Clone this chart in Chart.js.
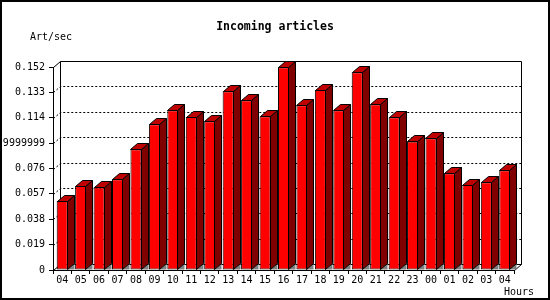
<!DOCTYPE html>
<html>
<head>
<meta charset="utf-8">
<script src="https://cdn.jsdelivr.net/npm/chart.js@4"></script>
<style>
  body { margin: 0; background: #fff; }
  canvas { display: block; }
</style>
</head>
<body>
<canvas id="chart" width="550" height="300"></canvas>
<script>
const hours = ['04','05','06','07','08','09','10','11','12','13','14','15','16',
               '17','18','19','20','21','22','23','00','01','02','03','04'];
const artPerSec = [0.0517, 0.0629, 0.0619, 0.0679, 0.0904, 0.1091, 0.1196, 0.1146, 0.1113,
                   0.1338, 0.1271, 0.1151, 0.1518, 0.1233, 0.1348, 0.1196, 0.1480, 0.1241,
                   0.1143, 0.0963, 0.0986, 0.0724, 0.0636, 0.0657, 0.0746];
const yTickValues = [0, 0.019, 0.038, 0.057, 0.076, 0.095, 0.114, 0.133, 0.152];
const yTickLabels = ['0', '0.019', '0.038', '0.057', '0.076', '0.09499999999999999', '0.114', '0.133', '0.152'];

const DX = 7, DY = 6; // depth of the fake 3d

Chart.defaults.font.family = 'DejaVu Sans Mono';
Chart.defaults.font.size = 10;
Chart.defaults.color = '#000';

const poly = (ctx, pts, fill) => {
    ctx.beginPath();
    pts.forEach(([px, py], i) => i ? ctx.lineTo(px, py) : ctx.moveTo(px, py));
    ctx.closePath();
    ctx.fillStyle = fill;
    ctx.fill();
    ctx.stroke();
};

const box3d = {
    id: 'box3d',
    beforeDatasetsDraw(chart) {
        const {ctx, chartArea: a, scales: {y}} = chart;
        ctx.save();
        ctx.strokeStyle = '#000';
        ctx.lineWidth = 1;
        // dotted lines on the back wall
        ctx.setLineDash([2, 2]);
        yTickValues.slice(1, -1).forEach(v => {
            const py = Math.round(y.getPixelForValue(v)) + 0.5;
            ctx.beginPath();
            ctx.moveTo(a.left + 0.5, py);
            ctx.lineTo(a.left + DX + 0.5, py - DY);
            ctx.lineTo(a.right + DX + 0.5, py - DY);
            ctx.stroke();
        });
        ctx.setLineDash([]);
        const l = a.left + DX + 0.5, t = a.top - DY + 0.5;
        const r = a.right + DX + 0.5, b = a.bottom - DY + 0.5;
        ctx.beginPath();
        ctx.moveTo(a.left + 0.5, a.top + 0.5);
        ctx.lineTo(l, t);
        ctx.lineTo(r, t);
        ctx.lineTo(r, b);
        ctx.lineTo(a.right + 0.5, a.bottom + 0.5);
        ctx.moveTo(l, t);
        ctx.lineTo(l, b);
        ctx.lineTo(r, b);
        ctx.moveTo(l, b);
        ctx.lineTo(a.left + 0.5, a.bottom + 0.5);
        ctx.stroke();
        ctx.restore();
    },
    afterDatasetsDraw(chart) {
        const ctx = chart.ctx;
        ctx.save();
        ctx.strokeStyle = '#000';
        ctx.lineWidth = 1;
        chart.getDatasetMeta(0).data.forEach(bar => {
            const {x, y, base, width} = bar.getProps(['x', 'y', 'base', 'width'], true);
            const x0 = Math.round(x - width / 2) + 0.5;
            const x1 = Math.round(x + width / 2) - 0.5;
            const top = Math.round(y) + 0.5;
            const bot = Math.round(base) - 0.5;
            ctx.beginPath();
            ctx.moveTo(x1, bot);
            ctx.lineTo(x1 + DX, bot - DY);
            ctx.lineTo(x1 + DX, bot);
            ctx.closePath();
            ctx.fillStyle = '#808080';
            ctx.fill();
            poly(ctx, [[x1, top], [x1 + DX, top - DY], [x1 + DX, bot - DY], [x1, bot]], '#800000');
            poly(ctx, [[x0, top], [x0 + DX, top - DY], [x1 + DX, top - DY], [x1, top]], '#c00000');
        });
        ctx.restore();
    },
    afterDraw(chart) {
        const ctx = chart.ctx;
        ctx.save();
        ctx.fillStyle = '#000';
        ctx.textBaseline = 'middle';
        ctx.textAlign = 'center';
        ctx.font = 'bold 11.5px "DejaVu Sans Mono"';
        ctx.fillText('Incoming articles', 275, 27);
        ctx.textAlign = 'left';
        ctx.font = '10px "DejaVu Sans Mono"';
        ctx.fillText('Art/sec', 30, 37);
        ctx.fillText('Hours', 504, 292);
        ctx.strokeStyle = '#000';
        ctx.lineWidth = 2;
        ctx.strokeRect(1, 1, 548, 298);
        ctx.restore();
    }
};

new Chart(document.getElementById('chart'), {
    type: 'bar',
    data: {
        labels: hours,
        datasets: [{
            data: artPerSec,
            backgroundColor: '#ff0000',
            borderColor: '#000',
            borderWidth: 1,
            borderSkipped: false,
            barPercentage: 0.6,
            categoryPercentage: 1
        }]
    },
    options: {
        responsive: false,
        devicePixelRatio: 1,
        animation: false,
        layout: { padding: { top: 67, right: 36, left: 0, bottom: 0 } },
        plugins: {
            legend: { display: false },
            tooltip: { enabled: false },
            title: { display: false }
        },
        scales: {
            x: {
                grid: { drawOnChartArea: false, tickLength: 4, color: '#000' },
                border: { color: '#000' },
                ticks: { padding: 0, maxRotation: 0, autoSkip: false },
                afterFit(s) { s.height = 30; }
            },
            y: {
                min: 0,
                max: 0.152,
                afterBuildTicks(s) { s.ticks = yTickValues.map(v => ({ value: v })); },
                ticks: { padding: 4, callback: (v, i) => yTickLabels[i] },
                grid: { drawOnChartArea: false, tickLength: 4, color: '#000' },
                border: { color: '#000' },
                afterFit(s) { s.width = 53; }
            }
        }
    },
    plugins: [box3d]
});
</script>
</body>
</html>
